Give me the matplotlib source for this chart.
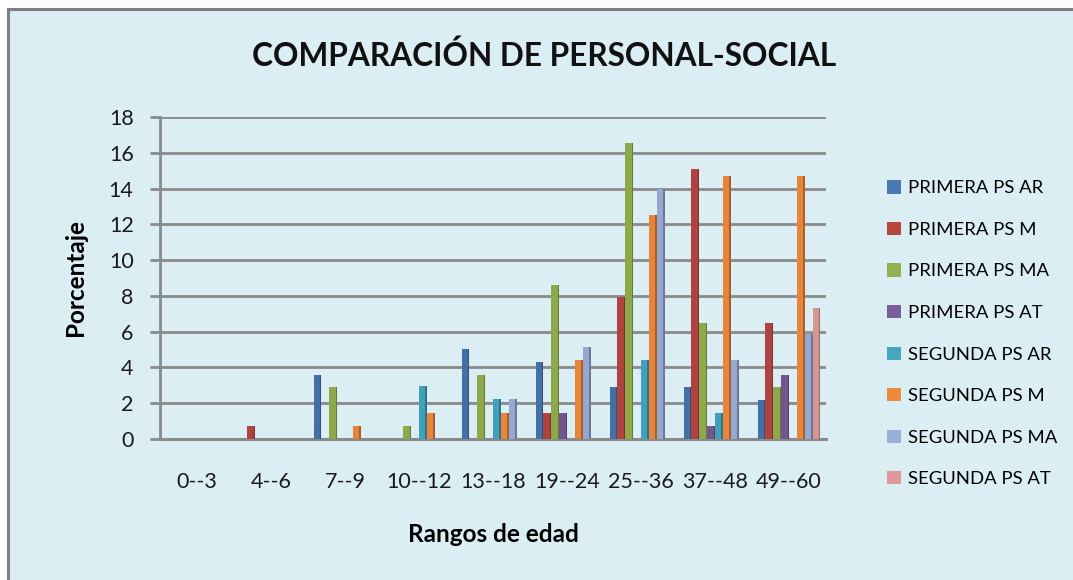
import matplotlib
matplotlib.use("Agg")
import matplotlib.pyplot as plt
from matplotlib.patches import Rectangle, Patch
import numpy as np

plt.rcParams['font.family'] = ['Lato', 'DejaVu Sans']

categories = ["0--3", "4--6", "7--9", "10--12", "13--18", "19--24", "25--36", "37--48", "49--60"]
series_names = ["PRIMERA PS AR", "PRIMERA PS M", "PRIMERA PS MA", "PRIMERA PS AT",
                "SEGUNDA PS AR", "SEGUNDA PS M", "SEGUNDA PS MA", "SEGUNDA PS AT"]

primera_ps_ar = [0, 0, 3.60, 0, 5.04, 4.32, 2.88, 2.88, 2.16]
primera_ps_m = [0, 0.72, 0, 0, 0, 1.44, 7.91, 15.11, 6.47]
primera_ps_ma = [0, 0, 2.88, 0.72, 3.60, 8.63, 16.55, 6.47, 2.88]
primera_ps_at = [0, 0, 0, 0, 0, 1.44, 0, 0.72, 3.60]
segunda_ps_ar = [0, 0, 0, 2.94, 2.21, 0, 4.41, 1.47, 0]
segunda_ps_m = [0, 0, 0.74, 1.47, 1.47, 4.41, 12.50, 14.71, 14.71]
segunda_ps_ma = [0, 0, 0, 0, 2.21, 5.15, 13.97, 4.41, 5.88]
segunda_ps_at = [0, 0, 0, 0, 0, 0, 0, 0, 7.35]

series = [primera_ps_ar, primera_ps_m, primera_ps_ma, primera_ps_at,
          segunda_ps_ar, segunda_ps_m, segunda_ps_ma, segunda_ps_at]

colors = ['#4470A8', '#B0433F', '#8DA94A', '#72578F',
          '#41A0BA', '#E9853A', '#94A8D2', '#D79593']
legend_colors = ['#4A78B2', '#B8463F', '#93B052', '#7A5E9A',
                 '#46A6C0', '#EE8A3E', '#9AB0D8', '#DC9A98']
bg = '#DBEEF4'

def darker(c, f=0.72):
    r, g, b = matplotlib.colors.to_rgb(c)
    return (r * f, g * f, b * f)

fig = plt.figure(figsize=(10.73, 5.80), dpi=100)
fig.patch.set_facecolor('white')
# chart area with border on top/left
fig.patches.append(Rectangle((8 / 1073, 0), 1.0, 1 - 9 / 580, transform=fig.transFigure,
                             facecolor=bg, edgecolor='none', zorder=-10))
fig.lines.append(plt.Line2D([8 / 1073, 8 / 1073], [0, 1 - 9 / 580], transform=fig.transFigure,
                            color='#808080', lw=2.2, zorder=-5))
fig.lines.append(plt.Line2D([8 / 1073, 1], [1 - 9 / 580, 1 - 9 / 580], transform=fig.transFigure,
                            color='#808080', lw=2.2, zorder=-5))

ax = fig.add_axes([160 / 1073, 141 / 580, 666 / 1073, 322 / 580])
ax.set_facecolor('none')

x = np.arange(len(categories))
n = len(series)
step = 0.106
front = 0.086
side = 0.02
for i, (vals, c) in enumerate(zip(series, colors)):
    pos = x + (i - (n - 1) / 2) * step - side / 2
    vals = np.array(vals)
    ax.bar(pos, vals, width=front, color=c, zorder=3, linewidth=0)
    ax.bar(pos + front / 2 + side / 2, vals, width=side, color=darker(c), zorder=3, linewidth=0)

ax.set_xlim(-0.5, len(categories) - 0.5)
ax.set_ylim(0, 18)
ax.set_yticks(np.arange(0, 19, 2))
ax.set_xticks(x)
ax.set_xticklabels(categories)
ax.yaxis.grid(True, color='#8A8A8A', linewidth=2.0, zorder=1)
ax.set_axisbelow(True)
for s in ['top', 'right']:
    ax.spines[s].set_visible(False)
ax.spines['left'].set_color('#8A8A8A')
ax.spines['left'].set_linewidth(2.0)
ax.spines['bottom'].set_color('#8A8A8A')
ax.spines['bottom'].set_linewidth(2.2)
ax.tick_params(axis='y', length=7, width=2, color='#8A8A8A', labelsize=15.5, pad=12,
               labelcolor='#1a1a1a')
ax.tick_params(axis='x', length=0, labelsize=15.5, pad=24, labelcolor='#1a1a1a')

ax.set_ylabel('Porcentaje', fontsize=17.5, fontweight='bold', labelpad=16)
ax.set_xlabel('Rangos de edad', fontsize=17.5, fontweight='bold', labelpad=22)

fig.text(544 / 1073, 1 - 56 / 580, 'COMPARACIÓN DE PERSONAL-SOCIAL', ha='center', va='center',
         fontsize=22.8, fontweight='bold', color='#111111')

handles = [Patch(facecolor=c, edgecolor='none') for c in legend_colors]
leg = fig.legend(handles, series_names, loc='upper left',
                 bbox_to_anchor=(880 / 1073, 1 - 173 / 580), frameon=False,
                 fontsize=13.3, labelspacing=1.38, handlelength=0.72, handleheight=0.72,
                 handletextpad=0.4, borderaxespad=0)

fig.savefig('out.png', dpi=100, facecolor=fig.get_facecolor())
